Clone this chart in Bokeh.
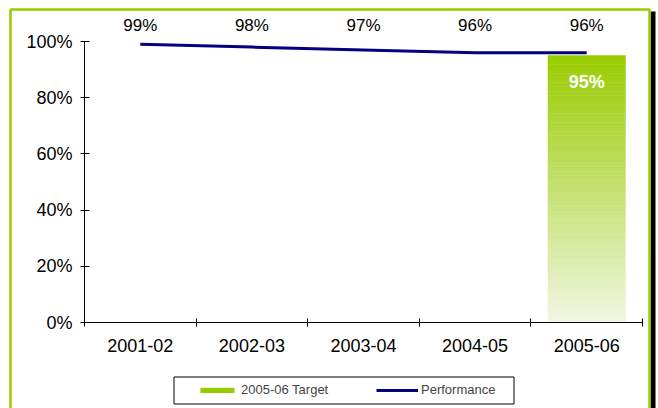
import numpy as np
from bokeh.plotting import figure
from bokeh.models import (Range1d, FixedTicker, NumeralTickFormatter, BoxAnnotation,
                          Legend, LegendItem, ColumnDataSource)
from bokeh.core.properties import value
from bokeh.embed import file_html
from bokeh.resources import INLINE

years = ["2001-02", "2002-03", "2003-04", "2004-05", "2005-06"]
performance = [0.99, 0.98, 0.97, 0.96, 0.96]
perf_labels = ["99%", "98%", "97%", "96%", "96%"]
target_year_index = 4
target_value = 0.95
target_label = "95%"
y_ticks = [0, 0.2, 0.4, 0.6, 0.8, 1.0]

FONT = "Liberation Sans"
GREEN_TOP = np.array([0x99, 0xCC, 0x00])
GREEN_BOTTOM = np.array([0xF2, 0xF7, 0xE3])

W, H = 658, 408
X0PX, X5PX, Y0PX, PX_PER_UNIT_Y = 84, 642, 322, 281
ppx = (X5PX - X0PX) / 5.0
x_start = -X0PX / ppx
x_end = 5 + (W - X5PX) / ppx
y_start = -(H - Y0PX) / PX_PER_UNIT_Y
y_end = Y0PX / PX_PER_UNIT_Y

p = figure(width=W, height=H, output_backend="svg", toolbar_location=None,
           x_range=Range1d(x_start, x_end), y_range=Range1d(y_start, y_end),
           min_border=0)
p.outline_line_color = None
p.xgrid.visible = False
p.ygrid.visible = False
p.background_fill_color = "white"
p.border_fill_color = "white"

centers = np.arange(len(years)) + 0.5

def screen_box(l, r, t, b, **kw):
    return BoxAnnotation(left=l, right=r, top=H - t, bottom=H - b,
                         left_units="screen", right_units="screen",
                         top_units="screen", bottom_units="screen", **kw)

# frame decorations
p.add_layout(screen_box(650, 655, 11, H + 20, fill_color="black", fill_alpha=1,
                        line_color=None, level="underlay"))
p.add_layout(screen_box(10, 649, 9, H + 20, fill_color="white", fill_alpha=1,
                        line_color="#99CC00", line_alpha=1, line_width=2.5,
                        level="underlay"))
# legend box
p.add_layout(screen_box(173.5, 513.5, 376.5, 403.5, fill_color="white", fill_alpha=1,
                        line_color="black", line_alpha=1, line_width=1,
                        level="overlay"))

# gradient bar built from slices of the target value
n = 60
fr = np.linspace(0, 1, n + 1)
bottoms = fr[:-1] * target_value
tops = fr[1:] * target_value
mix = ((fr[:-1] + fr[1:]) / 2)[:, None]
cols = (GREEN_BOTTOM * (1 - mix) + GREEN_TOP * mix).astype(int)
colors = ["#%02x%02x%02x" % tuple(c) for c in cols]
bw = 0.694
cx = centers[target_year_index]
bar_src = ColumnDataSource(dict(left=[cx - bw / 2] * n, right=[cx + bw / 2] * n,
                                bottom=bottoms, top=tops, color=colors))
bar_r = p.quad(left="left", right="right", bottom="bottom", top="top", source=bar_src,
               fill_color="color", line_color="color", line_width=0.5)

line_r = p.line(centers, performance, line_color="#000080", line_width=3)

# labels above chart
p.text(centers, [1.057] * len(years), text=perf_labels, text_align="center",
       text_baseline="alphabetic", text_font=value(FONT), text_font_size="17px",
       text_color="black")
p.text([cx], [target_value - 0.095], text=[target_label], text_align="center",
       text_baseline="alphabetic", text_font=value(FONT), text_font_size="18px",
       text_font_style="bold", text_color="white")

# axes
xa = p.xaxis[0]
xa.fixed_location = 0
xa.bounds = (0, 5)
xa.ticker = FixedTicker(ticks=list(centers), minor_ticks=list(range(len(years) + 1)))
xa.major_label_overrides = {float(c): y for c, y in zip(centers, years)}
xa.major_tick_in = 0
xa.major_tick_out = 0
xa.minor_tick_in = 4
xa.minor_tick_out = 4
xa.minor_tick_line_color = "black"
xa.axis_line_color = "black"
xa.major_label_standoff = 12
xa.major_label_text_font = FONT
xa.major_label_text_font_size = "18px"
xa.major_label_text_color = "black"

ya = p.yaxis[0]
ya.fixed_location = 0
ya.ticker = FixedTicker(ticks=y_ticks, minor_ticks=[])
ya.formatter = NumeralTickFormatter(format="0%")
ya.bounds = (0, 1)
ya.major_tick_in = 5
ya.major_tick_out = 4
ya.major_tick_line_color = "black"
ya.axis_line_color = "black"
ya.major_label_standoff = 8
ya.major_label_text_font = FONT
ya.major_label_text_font_size = "18px"
ya.major_label_text_color = "black"

legend = Legend(items=[LegendItem(label="2005-06 Target", renderers=[bar_r], index=n - 1),
                       LegendItem(label="Performance", renderers=[line_r])],
                orientation="horizontal", location=(196, 5))
legend.border_line_color = None
legend.background_fill_alpha = 0
legend.label_text_font = FONT
legend.label_text_font_size = "13px"
legend.glyph_width = 42
legend.glyph_height = 6
legend.label_standoff = 3
legend.label_width = 135
legend.spacing = 0
legend.padding = 0
legend.margin = 0
legend.label_height = 27
p.add_layout(legend, "center")

open("out.html", "w").write(file_html(p, INLINE))
